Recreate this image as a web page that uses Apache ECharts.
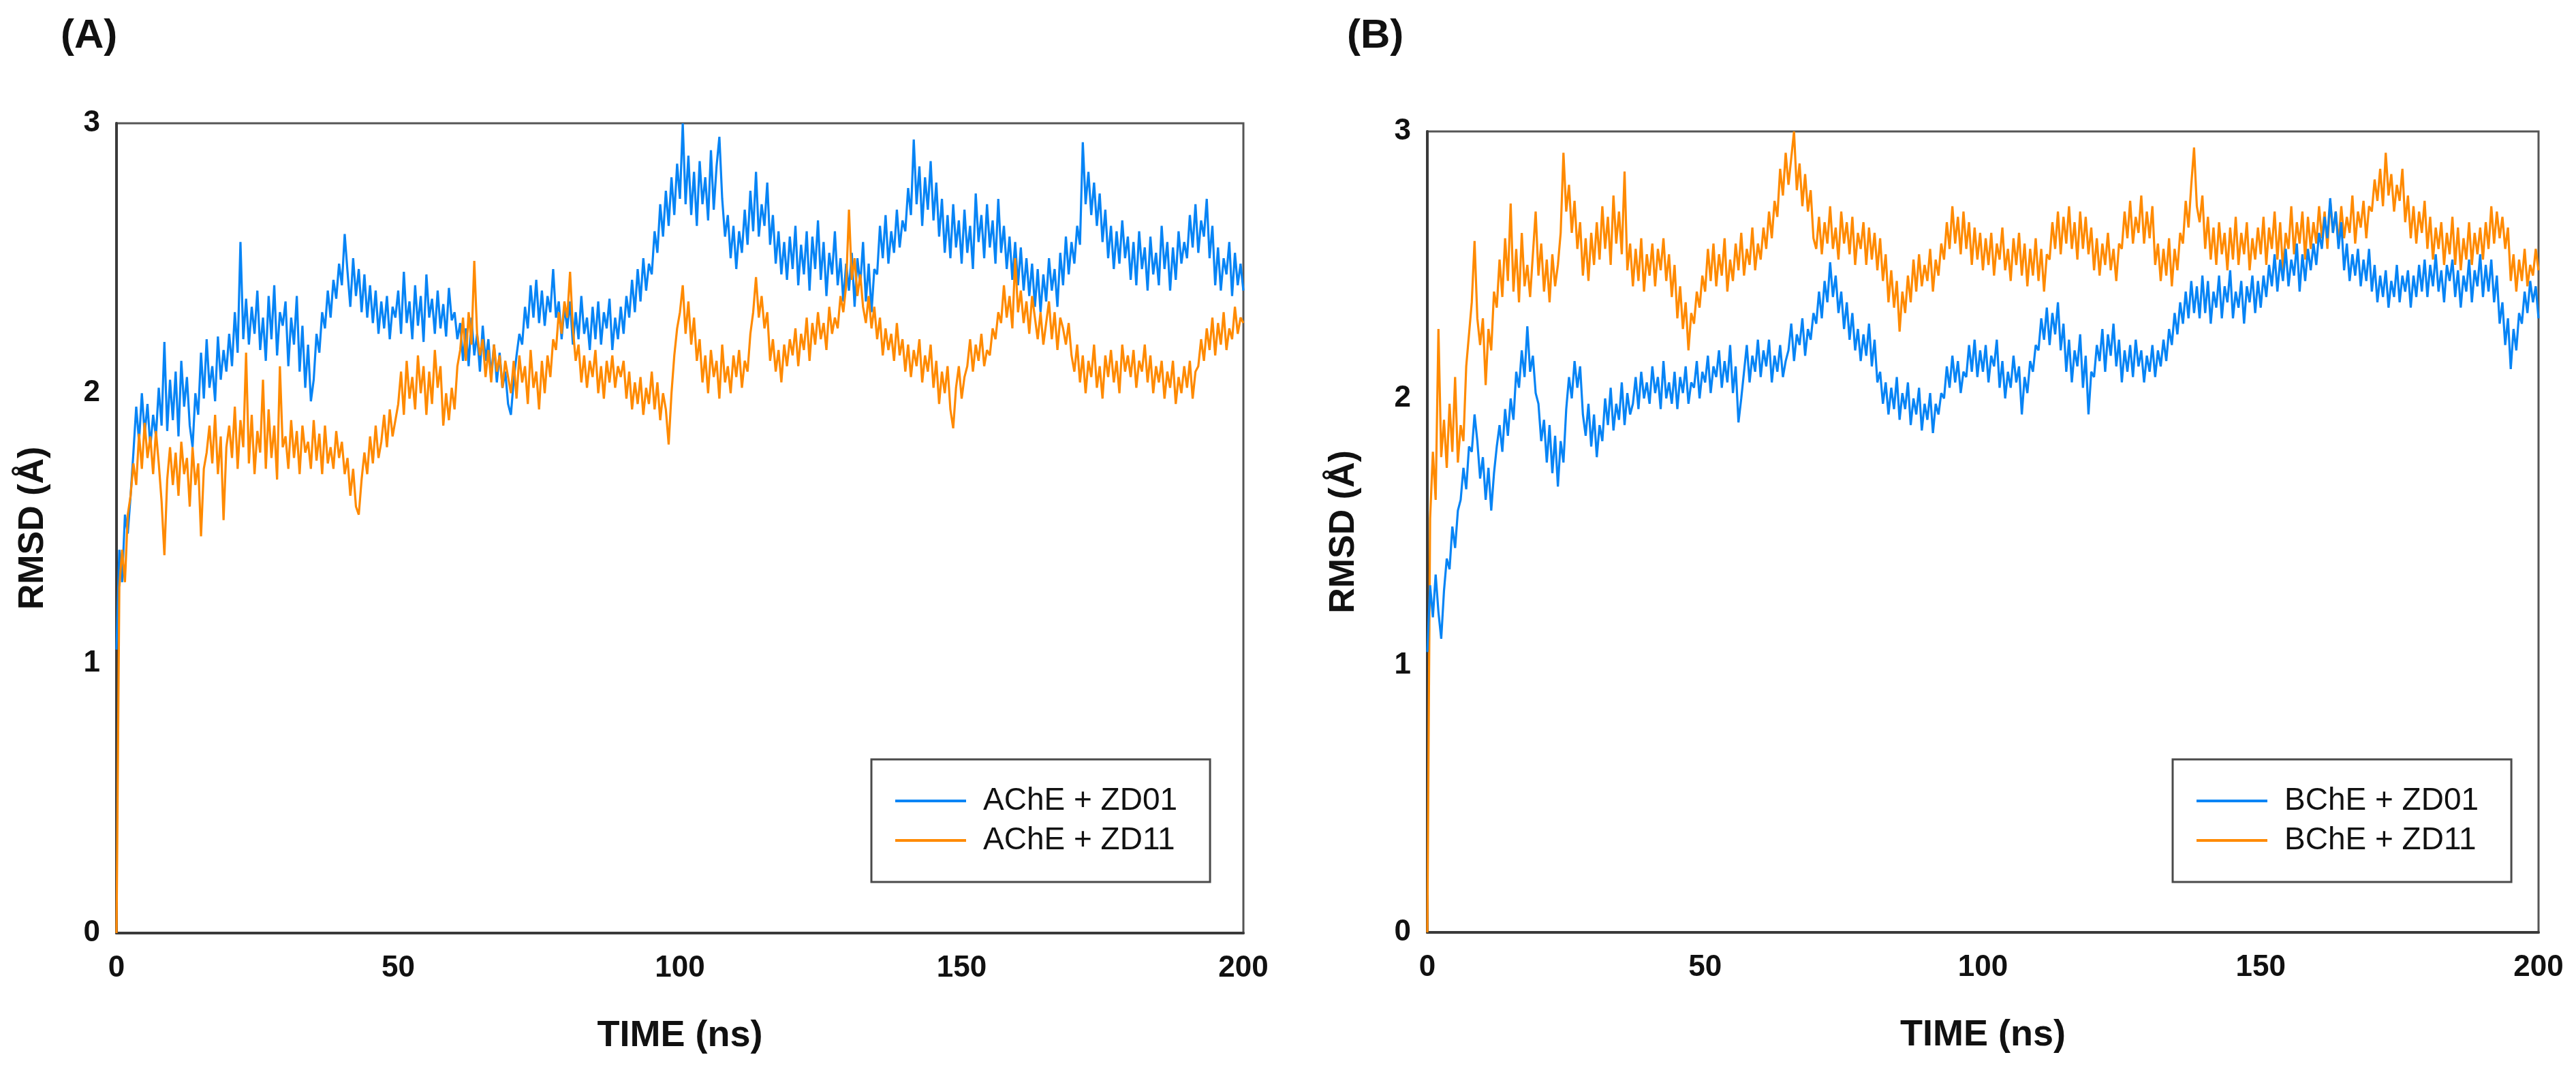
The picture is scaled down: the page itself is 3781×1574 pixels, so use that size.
<!DOCTYPE html>
<html>
<head>
<meta charset="utf-8">
<title>RMSD</title>
<script src="https://cdn.jsdelivr.net/npm/echarts@6/dist/echarts.min.js"></script>
<style>
  html, body { margin: 0; padding: 0; background: #fff; }
  #chart { width: 3781px; height: 1574px; }
</style>
</head>
<body>
<div id="chart"></div>
<script>
// sampling step of all traces (ns)
const STEP_NS = 0.5;
const xTicks = [0, 50, 100, 150, 200];
const yTicks = [0, 1, 2, 3];

const panelLabels = ['(A)', '(B)'];
const seriesNamesA = ['AChE + ZD01', 'AChE + ZD11'];
const seriesNamesB = ['BChE + ZD01', 'BChE + ZD11'];

// (A) AChE + ZD01
const acheZd01 = [
  1.05, 1.42, 1.30, 1.55, 1.48, 1.62, 1.78, 1.95, 1.82, 2.00, 1.85, 1.96, 1.80, 1.92, 1.84, 2.02, 1.88, 2.19, 1.86, 2.05,
  1.90, 2.08, 1.84, 2.12, 1.95, 2.06, 1.88, 1.80, 2.00, 1.92, 2.15, 1.98, 2.20, 2.02, 2.10, 1.97, 2.21, 2.05, 2.16, 2.08,
  2.22, 2.10, 2.30, 2.15, 2.56, 2.20, 2.35, 2.18, 2.32, 2.22, 2.38, 2.16, 2.28, 2.12, 2.36, 2.20, 2.40, 2.14, 2.30, 2.25,
  2.34, 2.10, 2.28, 2.18, 2.36, 2.08, 2.25, 2.02, 2.18, 1.97, 2.05, 2.22, 2.15, 2.30, 2.24, 2.38, 2.28, 2.42, 2.35, 2.48,
  2.40, 2.59, 2.45, 2.32, 2.50, 2.36, 2.46, 2.30, 2.44, 2.28, 2.40, 2.26, 2.38, 2.22, 2.34, 2.24, 2.36, 2.20, 2.32, 2.28,
  2.38, 2.22, 2.45, 2.26, 2.34, 2.20, 2.40, 2.25, 2.36, 2.19, 2.44, 2.28, 2.35, 2.22, 2.38, 2.24, 2.33, 2.21, 2.39, 2.27,
  2.30, 2.20, 2.26, 2.12, 2.24, 2.10, 2.28, 2.14, 2.22, 2.08, 2.25, 2.12, 2.20, 2.06, 2.18, 2.04, 2.15, 2.02, 2.08, 1.96,
  1.92, 2.05, 2.14, 2.22, 2.18, 2.32, 2.24, 2.40, 2.28, 2.42, 2.26, 2.38, 2.25, 2.36, 2.30, 2.46, 2.28, 2.34, 2.20, 2.32,
  2.24, 2.34, 2.18, 2.30, 2.20, 2.36, 2.22, 2.28, 2.16, 2.32, 2.20, 2.34, 2.18, 2.30, 2.24, 2.35, 2.16, 2.28, 2.20, 2.32,
  2.22, 2.36, 2.28, 2.42, 2.30, 2.46, 2.34, 2.50, 2.38, 2.48, 2.44, 2.60, 2.52, 2.70, 2.58, 2.75, 2.62, 2.80, 2.66, 2.85,
  2.72, 3.00, 2.70, 2.88, 2.66, 2.82, 2.62, 2.86, 2.70, 2.80, 2.64, 2.90, 2.68, 2.84, 2.95, 2.72, 2.58, 2.66, 2.50, 2.62,
  2.46, 2.60, 2.52, 2.68, 2.55, 2.75, 2.60, 2.82, 2.58, 2.70, 2.62, 2.78, 2.55, 2.66, 2.48, 2.60, 2.44, 2.56, 2.42, 2.58,
  2.46, 2.62, 2.40, 2.55, 2.44, 2.60, 2.38, 2.58, 2.46, 2.64, 2.42, 2.56, 2.36, 2.52, 2.44, 2.60, 2.40, 2.50, 2.34, 2.48,
  2.38, 2.52, 2.32, 2.50, 2.40, 2.56, 2.34, 2.48, 2.30, 2.46, 2.44, 2.62, 2.50, 2.66, 2.48, 2.60, 2.52, 2.68, 2.54, 2.64,
  2.60, 2.76, 2.66, 2.94, 2.70, 2.84, 2.62, 2.80, 2.68, 2.86, 2.64, 2.78, 2.58, 2.72, 2.52, 2.66, 2.50, 2.70, 2.54, 2.64,
  2.48, 2.68, 2.52, 2.62, 2.46, 2.74, 2.56, 2.66, 2.50, 2.70, 2.54, 2.64, 2.48, 2.72, 2.52, 2.62, 2.46, 2.58, 2.42, 2.56,
  2.40, 2.54, 2.38, 2.50, 2.36, 2.48, 2.32, 2.46, 2.30, 2.44, 2.34, 2.50, 2.38, 2.46, 2.32, 2.52, 2.40, 2.58, 2.44, 2.56,
  2.48, 2.62, 2.55, 2.93, 2.70, 2.82, 2.66, 2.78, 2.62, 2.74, 2.56, 2.68, 2.50, 2.62, 2.46, 2.60, 2.48, 2.64, 2.50, 2.58,
  2.42, 2.56, 2.40, 2.60, 2.46, 2.54, 2.38, 2.58, 2.44, 2.52, 2.40, 2.62, 2.46, 2.56, 2.38, 2.54, 2.42, 2.60, 2.48, 2.56,
  2.50, 2.66, 2.54, 2.70, 2.52, 2.64, 2.58, 2.72, 2.50, 2.62, 2.40, 2.54, 2.38, 2.50, 2.44, 2.56, 2.36, 2.52, 2.40, 2.48,
  2.38
];

// (A) AChE + ZD11
const acheZd11 = [
  0.00, 1.28, 1.42, 1.30, 1.55, 1.62, 1.74, 1.66, 1.85, 1.72, 1.89, 1.76, 1.84, 1.70, 1.86, 1.74, 1.60, 1.40, 1.68, 1.80,
  1.66, 1.78, 1.62, 1.82, 1.70, 1.76, 1.58, 1.80, 1.66, 1.74, 1.47, 1.72, 1.78, 1.88, 1.74, 1.92, 1.70, 1.84, 1.53, 1.80,
  1.88, 1.76, 1.95, 1.72, 1.90, 1.80, 2.15, 1.74, 1.92, 1.70, 1.86, 1.78, 2.05, 1.72, 1.94, 1.76, 1.88, 1.68, 2.10, 1.80,
  1.84, 1.72, 1.90, 1.76, 1.86, 1.70, 1.88, 1.78, 1.82, 1.72, 1.90, 1.75, 1.85, 1.70, 1.88, 1.74, 1.80, 1.72, 1.86, 1.76,
  1.82, 1.70, 1.76, 1.62, 1.72, 1.58, 1.55, 1.68, 1.78, 1.70, 1.84, 1.74, 1.88, 1.76, 1.82, 1.92, 1.80, 1.94, 1.84, 1.90,
  1.96, 2.08, 1.92, 2.12, 1.98, 2.06, 1.94, 2.14, 2.00, 2.10, 1.92, 2.08, 1.96, 2.16, 2.02, 2.10, 1.88, 2.00, 1.90, 2.02,
  1.94, 2.10, 2.16, 2.28, 2.12, 2.30, 2.18, 2.49, 2.22, 2.14, 2.20, 2.06, 2.16, 2.04, 2.18, 2.08, 2.14, 2.02, 2.12, 2.06,
  2.00, 2.12, 1.98, 2.14, 2.04, 2.10, 1.96, 2.16, 2.02, 2.08, 1.94, 2.12, 2.00, 2.14, 2.06, 2.20, 2.16, 2.30, 2.22, 2.34,
  2.28, 2.45, 2.24, 2.12, 2.18, 2.04, 2.14, 2.02, 2.12, 2.06, 2.16, 2.00, 2.10, 1.98, 2.12, 2.04, 2.14, 2.02, 2.10, 2.06,
  2.12, 1.98, 2.08, 1.94, 2.04, 1.96, 2.06, 1.92, 2.02, 1.96, 2.08, 1.94, 2.04, 1.90, 2.00, 1.94, 1.81, 2.00, 2.14, 2.24,
  2.30, 2.40, 2.22, 2.34, 2.18, 2.28, 2.12, 2.20, 2.04, 2.14, 2.00, 2.16, 2.06, 2.12, 1.98, 2.18, 2.04, 2.10, 2.00, 2.14,
  2.06, 2.16, 2.02, 2.12, 2.08, 2.22, 2.30, 2.43, 2.28, 2.36, 2.24, 2.30, 2.12, 2.20, 2.08, 2.16, 2.04, 2.18, 2.10, 2.20,
  2.14, 2.24, 2.10, 2.22, 2.16, 2.28, 2.12, 2.26, 2.18, 2.30, 2.20, 2.26, 2.16, 2.32, 2.22, 2.28, 2.24, 2.36, 2.30, 2.40,
  2.68, 2.42, 2.50, 2.36, 2.44, 2.32, 2.26, 2.36, 2.24, 2.32, 2.20, 2.28, 2.14, 2.24, 2.16, 2.22, 2.12, 2.26, 2.14, 2.20,
  2.08, 2.18, 2.06, 2.16, 2.10, 2.20, 2.04, 2.14, 2.08, 2.18, 2.02, 2.12, 1.96, 2.08, 2.00, 2.10, 1.94, 1.87, 2.02, 2.10,
  1.98, 2.06, 2.10, 2.20, 2.08, 2.18, 2.12, 2.22, 2.10, 2.16, 2.14, 2.24, 2.20, 2.30, 2.26, 2.40, 2.28, 2.36, 2.24, 2.50,
  2.30, 2.38, 2.26, 2.34, 2.22, 2.36, 2.28, 2.20, 2.30, 2.18, 2.26, 2.34, 2.20, 2.30, 2.16, 2.28, 2.24, 2.18, 2.26, 2.14,
  2.08, 2.18, 2.04, 2.14, 2.00, 2.12, 2.06, 2.18, 2.02, 2.10, 1.98, 2.14, 2.06, 2.16, 2.04, 2.12, 2.00, 2.18, 2.08, 2.14,
  2.06, 2.16, 2.02, 2.12, 2.08, 2.18, 2.04, 2.14, 2.00, 2.10, 2.04, 2.12, 1.98, 2.08, 2.02, 2.12, 1.96, 2.06, 2.00, 2.10,
  2.02, 2.12, 1.98, 2.08, 2.10, 2.20, 2.12, 2.24, 2.16, 2.28, 2.14, 2.26, 2.18, 2.30, 2.16, 2.24, 2.20, 2.32, 2.22, 2.28,
  2.26
];

// (B) BChE + ZD01
const bcheZd01 = [
  1.05, 1.30, 1.18, 1.34, 1.20, 1.10, 1.28, 1.40, 1.36, 1.52, 1.44, 1.58, 1.62, 1.74, 1.66, 1.82, 1.80, 1.94, 1.84, 1.70,
  1.78, 1.62, 1.74, 1.58, 1.72, 1.82, 1.90, 1.80, 1.96, 1.86, 2.00, 1.92, 2.10, 2.04, 2.18, 2.08, 2.27, 2.10, 2.16, 2.02,
  1.98, 1.84, 1.92, 1.76, 1.90, 1.72, 1.86, 1.67, 1.84, 1.76, 1.96, 2.08, 2.00, 2.14, 2.04, 2.12, 1.94, 1.86, 1.98, 1.82,
  1.94, 1.78, 1.90, 1.84, 2.00, 1.90, 2.04, 1.88, 1.98, 1.92, 2.06, 1.90, 2.02, 1.94, 1.98, 2.08, 1.96, 2.10, 2.00, 2.06,
  1.98, 2.12, 2.02, 2.08, 1.96, 2.14, 2.00, 2.06, 1.98, 2.10, 1.96, 2.08, 2.02, 2.12, 1.98, 2.06, 2.04, 2.14, 2.00, 2.10,
  2.06, 2.16, 2.02, 2.12, 2.08, 2.18, 2.04, 2.14, 2.06, 2.20, 2.02, 2.12, 1.91, 2.00, 2.10, 2.20, 2.06, 2.16, 2.10, 2.22,
  2.08, 2.18, 2.12, 2.22, 2.06, 2.16, 2.10, 2.20, 2.08, 2.14, 2.18, 2.28, 2.14, 2.24, 2.20, 2.30, 2.16, 2.26, 2.22, 2.32,
  2.28, 2.40, 2.30, 2.44, 2.36, 2.51, 2.38, 2.46, 2.32, 2.40, 2.26, 2.36, 2.22, 2.32, 2.18, 2.26, 2.14, 2.24, 2.16, 2.28,
  2.12, 2.22, 2.06, 2.10, 1.98, 2.06, 1.94, 2.04, 1.96, 2.08, 1.92, 2.02, 1.96, 2.06, 1.90, 2.00, 1.94, 2.04, 1.88, 1.98,
  1.92, 2.02, 1.87, 1.98, 1.94, 2.02, 2.00, 2.12, 2.04, 2.16, 2.06, 2.14, 2.02, 2.10, 2.08, 2.20, 2.10, 2.22, 2.08, 2.18,
  2.10, 2.20, 2.06, 2.16, 2.12, 2.22, 2.04, 2.14, 2.00, 2.10, 2.04, 2.16, 2.06, 2.12, 1.94, 2.08, 2.02, 2.14, 2.10, 2.20,
  2.18, 2.30, 2.22, 2.34, 2.20, 2.32, 2.24, 2.36, 2.18, 2.28, 2.10, 2.22, 2.06, 2.18, 2.12, 2.24, 2.04, 2.16, 1.94, 2.10,
  2.08, 2.20, 2.14, 2.26, 2.10, 2.24, 2.16, 2.28, 2.12, 2.22, 2.06, 2.18, 2.10, 2.20, 2.08, 2.22, 2.12, 2.18, 2.06, 2.16,
  2.10, 2.20, 2.08, 2.18, 2.12, 2.22, 2.14, 2.26, 2.20, 2.32, 2.24, 2.36, 2.28, 2.40, 2.30, 2.44, 2.32, 2.42, 2.30, 2.46,
  2.32, 2.44, 2.28, 2.40, 2.34, 2.46, 2.30, 2.42, 2.36, 2.48, 2.30, 2.40, 2.34, 2.44, 2.28, 2.42, 2.36, 2.46, 2.32, 2.44,
  2.34, 2.46, 2.38, 2.50, 2.42, 2.54, 2.40, 2.52, 2.44, 2.56, 2.42, 2.52, 2.46, 2.58, 2.40, 2.54, 2.44, 2.56, 2.48, 2.58,
  2.50, 2.62, 2.56, 2.68, 2.60, 2.75, 2.62, 2.70, 2.56, 2.66, 2.48, 2.58, 2.44, 2.54, 2.46, 2.56, 2.42, 2.52, 2.44, 2.56,
  2.40, 2.50, 2.36, 2.46, 2.38, 2.48, 2.34, 2.44, 2.38, 2.50, 2.36, 2.46, 2.40, 2.48, 2.34, 2.46, 2.38, 2.50, 2.40, 2.52,
  2.38, 2.50, 2.42, 2.54, 2.40, 2.48, 2.36, 2.50, 2.44, 2.52, 2.38, 2.48, 2.34, 2.46, 2.40, 2.52, 2.36, 2.48, 2.42, 2.54,
  2.38, 2.50, 2.40, 2.52, 2.36, 2.46, 2.28, 2.36, 2.20, 2.30, 2.11, 2.26, 2.18, 2.32, 2.28, 2.40, 2.32, 2.44, 2.36, 2.42,
  2.30
];

// (B) BChE + ZD11
const bcheZd11 = [
  0.00, 1.55, 1.80, 1.62, 2.26, 1.78, 1.92, 1.74, 1.98, 1.80, 2.08, 1.76, 1.90, 1.84, 2.12, 2.24, 2.36, 2.59, 2.30, 2.20,
  2.30, 2.05, 2.26, 2.18, 2.40, 2.34, 2.52, 2.38, 2.60, 2.44, 2.73, 2.40, 2.56, 2.36, 2.62, 2.42, 2.50, 2.38, 2.54, 2.70,
  2.46, 2.58, 2.40, 2.52, 2.36, 2.54, 2.42, 2.50, 2.62, 2.92, 2.70, 2.80, 2.62, 2.74, 2.56, 2.66, 2.46, 2.60, 2.44, 2.62,
  2.50, 2.66, 2.52, 2.72, 2.56, 2.68, 2.50, 2.76, 2.58, 2.70, 2.54, 2.85, 2.48, 2.58, 2.42, 2.56, 2.44, 2.60, 2.40, 2.54,
  2.46, 2.58, 2.42, 2.56, 2.48, 2.60, 2.44, 2.54, 2.38, 2.50, 2.30, 2.42, 2.26, 2.36, 2.18, 2.32, 2.28, 2.40, 2.34, 2.46,
  2.40, 2.56, 2.44, 2.58, 2.42, 2.54, 2.46, 2.60, 2.40, 2.52, 2.44, 2.58, 2.48, 2.62, 2.46, 2.56, 2.50, 2.64, 2.48, 2.58,
  2.52, 2.64, 2.56, 2.70, 2.60, 2.74, 2.68, 2.86, 2.76, 2.92, 2.80, 2.90, 3.00, 2.78, 2.88, 2.72, 2.84, 2.70, 2.78, 2.60,
  2.56, 2.68, 2.54, 2.66, 2.58, 2.72, 2.56, 2.64, 2.52, 2.70, 2.58, 2.66, 2.54, 2.68, 2.50, 2.62, 2.56, 2.66, 2.50, 2.64,
  2.52, 2.62, 2.48, 2.60, 2.44, 2.54, 2.36, 2.48, 2.34, 2.44, 2.25, 2.40, 2.32, 2.46, 2.36, 2.52, 2.40, 2.54, 2.42, 2.50,
  2.44, 2.56, 2.40, 2.52, 2.46, 2.58, 2.52, 2.66, 2.56, 2.72, 2.58, 2.68, 2.54, 2.70, 2.56, 2.66, 2.50, 2.64, 2.52, 2.62,
  2.48, 2.60, 2.50, 2.62, 2.46, 2.58, 2.52, 2.64, 2.48, 2.56, 2.44, 2.60, 2.50, 2.62, 2.46, 2.58, 2.42, 2.56, 2.46, 2.60,
  2.44, 2.56, 2.40, 2.54, 2.52, 2.66, 2.56, 2.70, 2.54, 2.68, 2.58, 2.72, 2.56, 2.66, 2.52, 2.70, 2.56, 2.68, 2.54, 2.64,
  2.48, 2.60, 2.46, 2.58, 2.50, 2.62, 2.48, 2.56, 2.44, 2.58, 2.56, 2.70, 2.60, 2.74, 2.58, 2.68, 2.62, 2.76, 2.58, 2.70,
  2.60, 2.72, 2.50, 2.58, 2.44, 2.56, 2.46, 2.60, 2.42, 2.56, 2.48, 2.62, 2.58, 2.74, 2.64, 2.80, 2.94, 2.72, 2.66, 2.76,
  2.56, 2.68, 2.52, 2.64, 2.50, 2.66, 2.54, 2.62, 2.48, 2.64, 2.52, 2.68, 2.50, 2.62, 2.54, 2.66, 2.48, 2.60, 2.52, 2.64,
  2.54, 2.68, 2.50, 2.64, 2.56, 2.70, 2.52, 2.66, 2.48, 2.62, 2.56, 2.72, 2.54, 2.66, 2.58, 2.70, 2.52, 2.68, 2.56, 2.66,
  2.58, 2.72, 2.60, 2.70, 2.56, 2.74, 2.62, 2.70, 2.58, 2.72, 2.60, 2.68, 2.62, 2.76, 2.58, 2.70, 2.64, 2.74, 2.60, 2.72,
  2.70, 2.82, 2.74, 2.86, 2.72, 2.92, 2.76, 2.84, 2.70, 2.80, 2.74, 2.86, 2.66, 2.76, 2.60, 2.72, 2.58, 2.70, 2.62, 2.74,
  2.56, 2.68, 2.52, 2.64, 2.56, 2.66, 2.50, 2.62, 2.54, 2.68, 2.50, 2.64, 2.48, 2.60, 2.52, 2.66, 2.50, 2.62, 2.54, 2.64,
  2.52, 2.66, 2.56, 2.72, 2.58, 2.70, 2.60, 2.68, 2.56, 2.64, 2.44, 2.54, 2.40, 2.52, 2.44, 2.56, 2.42, 2.50, 2.46, 2.56,
  2.48
];

const BLUE = '#0784f5';
const ORANGE = '#ff8a00';
const FONT = '"Liberation Sans", Arial, Helvetica, sans-serif';

function toPoints(values) {
  return values.map(function (v, i) { return [i * STEP_NS, v]; });
}

function lineSeries(name, values, color, idx) {
  return {
    name: name,
    type: 'line',
    xAxisIndex: idx,
    yAxisIndex: idx,
    data: toPoints(values),
    showSymbol: false,
    symbol: 'none',
    color: color,
    lineStyle: { color: color, width: 3.2 },
    animation: false,
    clip: true
  };
}

function xAxisFor(idx) {
  return {
    type: 'value',
    gridIndex: idx,
    min: xTicks[0],
    max: xTicks[xTicks.length - 1],
    interval: xTicks[1] - xTicks[0],
    name: 'TIME (ns)',
    nameLocation: 'middle',
    nameGap: 124,
    nameTextStyle: { fontFamily: FONT, fontSize: 54, fontWeight: 'bold', color: '#111' },
    axisLine: { show: true, lineStyle: { color: '#3a3a3a', width: 4 } },
    axisTick: { show: false },
    splitLine: { show: false },
    axisLabel: { fontFamily: FONT, fontSize: 44, fontWeight: 'bold', color: '#111', margin: 30 }
  };
}

function yAxisFor(idx) {
  return {
    type: 'value',
    gridIndex: idx,
    min: yTicks[0],
    max: yTicks[yTicks.length - 1],
    interval: yTicks[1] - yTicks[0],
    name: 'RMSD (Å)',
    nameLocation: 'middle',
    nameGap: 96,
    nameRotate: 90,
    nameTextStyle: { fontFamily: FONT, fontSize: 52, fontWeight: 'bold', color: '#111' },
    axisLine: { show: true, lineStyle: { color: '#3a3a3a', width: 4 } },
    axisTick: { show: false },
    splitLine: { show: false },
    axisLabel: { fontFamily: FONT, fontSize: 44, fontWeight: 'bold', color: '#111', margin: 24 }
  };
}

function legendFor(names, left) {
  return {
    show: true,
    orient: 'vertical',
    left: left,
    top: 1115,
    data: names,
    icon: 'rect',
    itemWidth: 104,
    itemHeight: 4,
    itemGap: 12,
    padding: [38, 48, 38, 35],
    backgroundColor: '#fff',
    borderColor: '#4a4a4a',
    borderWidth: 3,
    borderRadius: 0,
    selectedMode: false,
    textStyle: {
      fontFamily: FONT,
      fontSize: 46,
      lineHeight: 46,
      color: '#111',
      padding: [0, 0, 0, 20]
    }
  };
}

const chart = echarts.init(document.getElementById('chart'), null, { renderer: 'canvas' });

chart.setOption({
  backgroundColor: '#fff',
  animation: false,
  title: [
    { text: panelLabels[0], left: 84, top: 18, textStyle: { fontFamily: FONT, fontSize: 60, fontWeight: 'bold', color: '#111' } },
    { text: panelLabels[1], left: 1972, top: 18, textStyle: { fontFamily: FONT, fontSize: 60, fontWeight: 'bold', color: '#111' } }
  ],
  grid: [
    { left: 171, top: 181, width: 1654, height: 1189, show: true, borderColor: '#555', borderWidth: 3, backgroundColor: 'transparent' },
    { left: 2095, top: 193, width: 1631, height: 1176, show: true, borderColor: '#555', borderWidth: 3, backgroundColor: 'transparent' }
  ],
  xAxis: [xAxisFor(0), xAxisFor(1)],
  yAxis: [yAxisFor(0), yAxisFor(1)],
  legend: [legendFor(seriesNamesA, 1279), legendFor(seriesNamesB, 3189)],
  series: [
    lineSeries(seriesNamesA[0], acheZd01, BLUE, 0),
    lineSeries(seriesNamesA[1], acheZd11, ORANGE, 0),
    lineSeries(seriesNamesB[1], bcheZd11, ORANGE, 1),
    lineSeries(seriesNamesB[0], bcheZd01, BLUE, 1)
  ]
});
</script>
</body>
</html>
